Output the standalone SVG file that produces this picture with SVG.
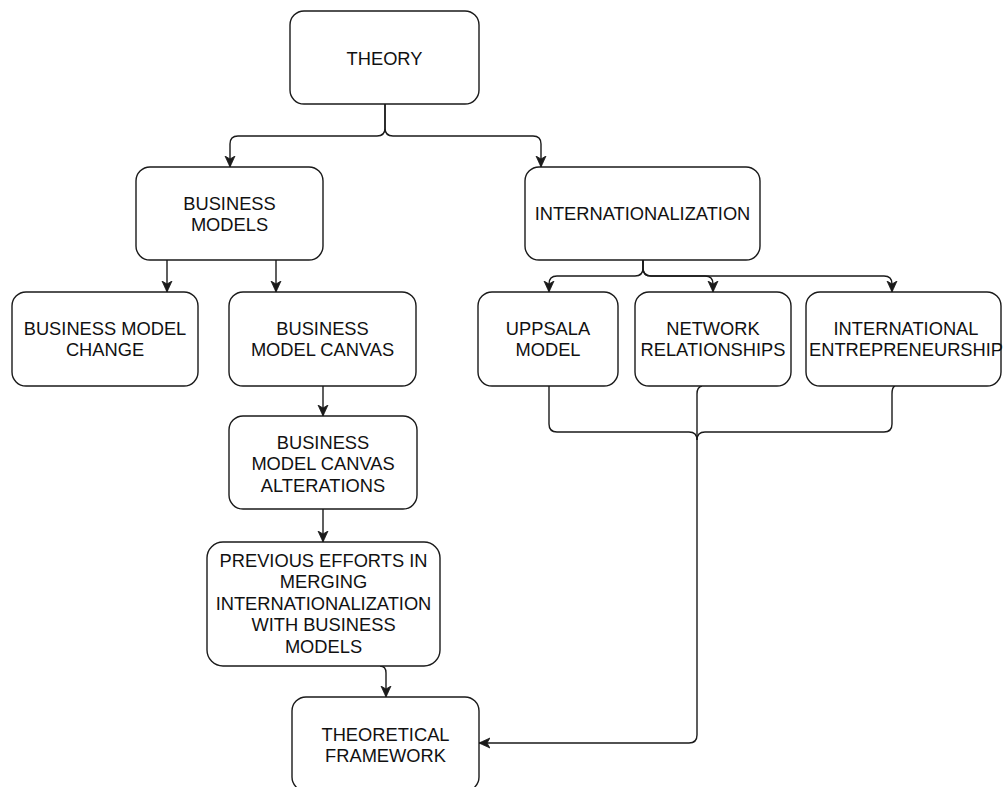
<svg xmlns="http://www.w3.org/2000/svg" width="1003" height="787" viewBox="0 0 1003 787">
  <style>
    .box { fill: #ffffff; stroke: #1a1a1a; stroke-width: 1.4; }
    .lbl { font-family: "Liberation Sans", Arial, Helvetica, sans-serif; font-size: 18.3px; fill: #111111; text-anchor: middle; }
    .edge { fill: none; stroke: #1a1a1a; stroke-width: 1.4; }
    .arr { marker-end: url(#arrow); }
  </style>
  <defs>
    <marker id="arrow" markerUnits="userSpaceOnUse" markerWidth="13" markerHeight="13" refX="11" refY="5.5" orient="auto">
      <path d="M0,0.5 L11,5.5 L0,10.5 L3,5.5 z" fill="#1a1a1a" stroke="#1a1a1a" stroke-width="0.8" stroke-linejoin="miter"/>
    </marker>
  </defs>
  <rect width="1003" height="787" fill="#ffffff"/>

  <!-- connectors -->
  <g id="connectors">
    <path class="edge arr" d="M385,104 V128 Q385,136 377,136 H238 Q230,136 230,144 V167"/>
    <path class="edge arr" d="M385,104 V128 Q385,136 393,136 H533 Q541,136 541,144 V167"/>
    <path class="edge arr" d="M167,260 V292"/>
    <path class="edge arr" d="M276,260 V292"/>
    <path class="edge arr" d="M323,386 V416"/>
    <path class="edge arr" d="M323,509 V542"/>
    <path class="edge arr" d="M380,666 Q386,666 386,673 V697"/>
    <path class="edge arr" d="M643,260 V268 Q643,276 635,276 H557 Q549,276 549,284 V292"/>
    <path class="edge arr" d="M643,260 V268 Q643,276 651,276 H705 Q713,276 713,284 V292"/>
    <path class="edge arr" d="M643,260 V268 Q643,276 651,276 H884 Q892,276 892,284 V292"/>
    <path class="edge" d="M549,386 V424 Q549,432 557,432 H689 Q697,432 697,440"/>
    <path class="edge" d="M895,386 Q892,387 892,394 V424 Q892,432 884,432 H705 Q697,432 697,440"/>
    <path class="edge arr" d="M702,386 Q697,387 697,394 V735 Q697,743 689,743 H479"/>
  </g>

  <g id="theory">
    <rect class="box" x="290" y="11" width="189" height="93" rx="14"/>
    <text class="lbl" x="384.5" y="64.5">THEORY</text>
  </g>

  <g id="business-models">
    <rect class="box" x="136" y="167" width="187" height="93" rx="14"/>
    <text class="lbl" x="229.5" y="209.5">BUSINESS</text>
    <text class="lbl" x="229.5" y="231">MODELS</text>
  </g>

  <g id="internationalization">
    <rect class="box" x="525" y="167" width="235" height="93" rx="14"/>
    <text class="lbl" x="642.5" y="220">INTERNATIONALIZATION</text>
  </g>

  <g id="business-model-change">
    <rect class="box" x="12" y="292" width="186" height="94" rx="14"/>
    <text class="lbl" x="105" y="334.5">BUSINESS MODEL</text>
    <text class="lbl" x="105" y="356">CHANGE</text>
  </g>

  <g id="business-model-canvas">
    <rect class="box" x="229" y="292" width="187" height="94" rx="14"/>
    <text class="lbl" x="322.5" y="334.5">BUSINESS</text>
    <text class="lbl" x="322.5" y="356">MODEL CANVAS</text>
  </g>

  <g id="uppsala-model">
    <rect class="box" x="478" y="292" width="140" height="94" rx="14"/>
    <text class="lbl" x="548" y="334.5">UPPSALA</text>
    <text class="lbl" x="548" y="356">MODEL</text>
  </g>

  <g id="network-relationships">
    <rect class="box" x="635" y="292" width="156" height="94" rx="14"/>
    <text class="lbl" x="713" y="334.5">NETWORK</text>
    <text class="lbl" x="713" y="356">RELATIONSHIPS</text>
  </g>

  <g id="international-entrepreneurship">
    <rect class="box" x="806" y="292" width="195" height="94" rx="14"/>
    <text class="lbl" x="906" y="334.5">INTERNATIONAL</text>
    <text class="lbl" x="906" y="356">ENTREPRENEURSHIP</text>
  </g>

  <g id="canvas-alterations">
    <rect class="box" x="229" y="416" width="188" height="93" rx="14"/>
    <text class="lbl" x="323" y="448.5">BUSINESS</text>
    <text class="lbl" x="323" y="470">MODEL CANVAS</text>
    <text class="lbl" x="323" y="491.5">ALTERATIONS</text>
  </g>

  <g id="previous-efforts">
    <rect class="box" x="207" y="542" width="233" height="124" rx="16"/>
    <text class="lbl" x="323.5" y="566.5">PREVIOUS EFFORTS IN</text>
    <text class="lbl" x="323.5" y="588">MERGING</text>
    <text class="lbl" x="323.5" y="609.5">INTERNATIONALIZATION</text>
    <text class="lbl" x="323.5" y="631">WITH BUSINESS</text>
    <text class="lbl" x="323.5" y="652.5">MODELS</text>
  </g>

  <g id="theoretical-framework">
    <rect class="box" x="292" y="697" width="187" height="94" rx="14"/>
    <text class="lbl" x="385.5" y="740.5">THEORETICAL</text>
    <text class="lbl" x="385.5" y="762">FRAMEWORK</text>
  </g>
</svg>
